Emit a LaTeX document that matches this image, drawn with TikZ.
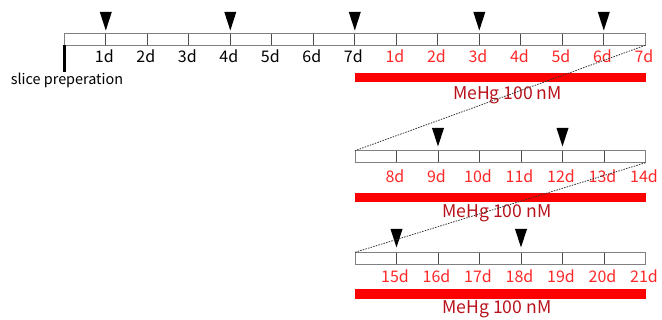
\documentclass[tikz,border=0pt]{standalone}
\usepackage{fontspec}
\setmainfont{Noto Sans CJK JP}
\definecolor{dayred}{RGB}{255,40,40}
\definecolor{barred}{RGB}{255,0,0}
\definecolor{txtred}{RGB}{185,18,28}
\definecolor{stripgray}{RGB}{128,128,128}
\begin{document}
\begin{tikzpicture}[x=1pt,y=-1pt,
  strip/.style={draw=stripgray, fill=white, line width=0.9pt, minimum width=581pt, minimum height=12pt, inner sep=0pt, outer sep=0pt, anchor=north west},
  tickline/.style={draw=black!70, line width=0.8pt},
  daylbl/.style={font=\fontsize{16}{16}\selectfont, inner sep=0pt, anchor=center},
  reddaylbl/.style={daylbl, text=dayred},
  redbar/.style={fill=barred, draw=none, minimum width=291pt, minimum height=9.6pt, inner sep=0pt, outer sep=0pt, anchor=north west},
  mehg/.style={font=\fontsize{17.6}{17.6}\selectfont, text=txtred, inner sep=0pt, anchor=center},
  marker/.style={fill=black, draw=none},
  zoomline/.style={draw=black!80, dashed, dash pattern=on 1.5pt off 1.2pt, line width=0.8pt}
]
\useasboundingbox (0,0) rectangle (662,320);

% ---------- strips ----------
\node[strip] (s1) at (64.3,33.3) {};
\node[strip, minimum width=290.5pt] (s2) at (355,150.7) {};
\node[strip, minimum width=290.5pt] (s3) at (355,252.3) {};

% ticks
\foreach \i in {1,...,13} \draw[tickline] (64.3+41.5*\i,33.3) -- ++(0,12);
\foreach \i in {1,...,6} {
  \draw[tickline] (355+41.5*\i,150.7) -- ++(0,12);
  \draw[tickline] (355+41.5*\i,252.3) -- ++(0,12);
}
\node[strip, fill=none] at (64.3,33.3) {};
\node[strip, fill=none, minimum width=290.5pt] at (355,150.7) {};
\node[strip, fill=none, minimum width=290.5pt] at (355,252.3) {};

% ---------- markers ----------
\foreach \x in {105.8,230.3,354.8,479.3,603.8} \fill[marker] (\x-6,12) -- (\x+6,12) -- (\x,30.5) -- cycle;
\foreach \x in {438,562.5} \fill[marker] (\x-6,128) -- (\x+6,128) -- (\x,146.5) -- cycle;
\foreach \x in {396.5,521} \fill[marker] (\x-6,229) -- (\x+6,229) -- (\x,247.5) -- cycle;

% ---------- slice preparation ----------
\coordinate (sp) at (64.6,45.3);
\draw[line width=3pt] (sp) -- ++(0,26.5);
\node[font=\fontsize{14.4}{14.4}\selectfont, inner sep=0pt, anchor=center] (slice) at (67,80) {slice preperation};

% ---------- day labels ----------
\foreach \i in {1,...,7} \node[daylbl] (a\i) at (64.3+41.5*\i-1.5,56.5) {\i d};
\foreach \i in {1,...,7} \node[reddaylbl] (b\i) at (355+41.5*\i-1.5,56.5) {\i d};
\foreach \i [evaluate=\i as \d using int(\i+7)] in {1,...,7} \node[reddaylbl] (c\i) at (355+41.5*\i-1.5,176.5) {\d d};
\foreach \i [evaluate=\i as \d using int(\i+14)] in {1,...,7} \node[reddaylbl] (e\i) at (355+41.5*\i-1.5,276) {\d d};

% ---------- red bars ----------
\node[redbar] (r1) at (355,72.7) {};
\node[redbar] (r2) at (355,192.9) {};
\node[redbar] (r3) at (355,289) {};
\node[mehg] (m1) at (507.5,95) {MeHg 100 nM};
\node[mehg] (m2) at (497,213.5) {MeHg 100 nM};
\node[mehg] (m3) at (497,309) {MeHg 100 nM};

% ---------- zoom lines ----------
\draw[zoomline] (s1.south east) -- (s2.north west);
\draw[zoomline] (s2.south east) -- (s3.north west);
\end{tikzpicture}
\end{document}
